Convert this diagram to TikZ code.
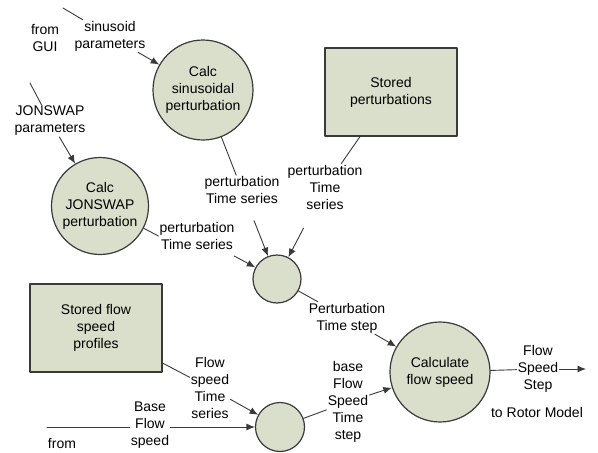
\documentclass[tikz,border=0pt]{standalone}
\usepackage{fontspec}
\setmainfont{Liberation Sans}
\usetikzlibrary{arrows.meta}
\definecolor{procfill}{RGB}{217,223,203}
\definecolor{edgegray}{RGB}{58,58,58}
\tikzset{
  proc/.style={circle, draw=edgegray, fill=procfill, line width=1.2pt, align=center, inner sep=0pt},
  store/.style={rectangle, draw=edgegray, fill=procfill, line width=1.2pt, align=center, minimum width=132pt, minimum height=88pt},
  lbl/.style={align=center, inner sep=1pt},
  link/.style={draw=edgegray, line width=0.9pt},
  flow/.style={link, -{Latex[length=8.5pt,width=7pt]}}
}
\begin{document}
\begin{tikzpicture}[x=1pt, y=-1pt, font=\fontsize{14}{17}\selectfont, line join=round, line cap=round]
  \useasboundingbox (0,0) rectangle (598,453);
  % processes and stores
  \node[proc, minimum size=100pt] (calcsin) at (203,90) {Calc\\sinusoidal\\perturbation};
  \node[proc, minimum size=97pt] (calcjon) at (100,206) {Calc\\JONSWAP\\perturbation};
  \node[proc, minimum size=48pt] (sumpert) at (277,279) {};
  \node[proc, minimum size=49pt] (sumflow) at (280,427) {};
  \node[proc, minimum size=100pt] (calcflow) at (440,372) {Calculate\\flow speed};
  \node[store] (storepert) at (391,92) {Stored\\perturbations};
  \node[store] (storeflow) at (96,328) {Stored flow\\speed\\profiles};
  % labels
  \node[lbl] (fromgui) at (45,38) {from\\GUI};
  \node[lbl] (sinpar) at (110,36) {sinusoid\\parameters};
  \node[lbl] (jonpar) at (50,121) {JONSWAP\\parameters};
  \node[lbl] (sints) at (242,190) {perturbation\\Time series};
  \node[lbl] (storets) at (325,187) {perturbation\\Time\\series};
  \node[lbl] (jonts) at (197,236) {perturbation\\Time series};
  \node[lbl] (pertstep) at (347,318) {Perturbation\\Time step};
  \node[lbl] (flowts) at (210,388) {Flow\\speed\\Time\\series};
  \node[lbl] (baseflow) at (150,425) {Base\\Flow\\speed};
  \node[lbl] (fromlow) at (62,443) {from};
  \node[lbl] (basestep) at (348,402) {base\\Flow\\Speed\\Time\\step};
  \node[lbl] (outstep) at (538,369) {Flow\\Speed\\Step};
  \node[lbl] (rotor) at (537,412) {to Rotor Model};
  % free ends
  \coordinate (sinin) at (63,8);
  \coordinate (jonin) at (30,83);
  \coordinate (basein) at (47,427);
  \coordinate (rotorout) at (586,369);
  % connectors
  \draw[link] (sinin) -- (sinpar);
  \draw[flow] (sinpar) -- (calcsin);
  \draw[link] (jonin) -- (jonpar);
  \draw[flow] (jonpar) -- (calcjon);
  \draw[link] (calcsin) -- (sints);
  \draw[link] (storepert) -- (storets);
  \draw[link] (calcjon.-27) -- (jonts.west);
  \draw[flow, shorten <=17pt] (sints) -- (sumpert);
  \draw[flow, shorten <=20pt] (storets) -- (sumpert);
  \draw[flow, shorten <=11pt] (jonts) -- (sumpert);
  \draw[link] (sumpert) -- (pertstep);
  \draw[flow] (pertstep) -- (calcflow);
  \draw[link] (storeflow) -- (flowts);
  \draw[flow] (flowts) -- (sumflow);
  \draw[link] (basein) -- (basein -| baseflow.west);
  \draw[flow] (baseflow.east |- basein) -- (sumflow);
  \draw[link] (sumflow) -- (basestep);
  \draw[flow] (basestep) -- (calcflow);
  \draw[link] (calcflow) -- (outstep);
  \draw[flow] (outstep) -- (rotorout);
\end{tikzpicture}
\end{document}
